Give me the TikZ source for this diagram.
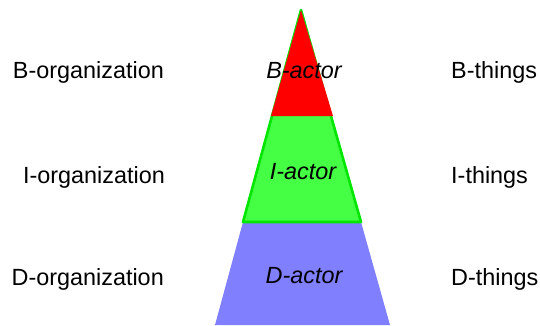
\documentclass[tikz,border=0pt]{standalone}
\usepackage{fontspec}
\setmainfont{Liberation Sans}
\usepackage{tikz,xcolor}
\usetikzlibrary{positioning}
\definecolor{bred}{HTML}{FF0000}
\definecolor{igreen}{HTML}{44FF44}
\definecolor{iedge}{HTML}{00E600}
\definecolor{dblue}{HTML}{8080FF}
\tikzset{
    level/.style={font=\fontsize{23.4}{28}\selectfont, inner sep=0pt}, % 左右两侧文字
    actor/.style={level, font=\fontsize{23.4}{28}\selectfont\itshape, anchor=base}, % 中间斜体文字
    org/.style={level, anchor=base east},
    thing/.style={level, anchor=base west}
}

\begin{document}
\begin{tikzpicture}[x=1pt, y=1pt]
    \useasboundingbox (0, 0) rectangle (540, 325);

    % 三角形的三层
    \fill[dblue] (215, 0) -- (390, 0) -- (361, 103) -- (243, 103) -- cycle;
    \filldraw[fill=igreen, draw=iedge, line width=2.6pt, line join=round] (301, 315) -- (361, 103) -- (243, 103) -- cycle;
    \fill[bred] (301, 315) -- (333, 209) -- (271, 209) -- cycle;

    \node (borg) [org] at (164, 247) {B-organization};
    \node (iorg) [org] at (165, 142) {I-organization};
    \node (dorg) [org] at (164, 40) {D-organization};

    \node (bact) [actor] at (304, 247) {B-actor};
    \node (iact) [actor] at (303, 146) {I-actor};
    \node (dact) [actor] at (304, 42) {D-actor};

    \node (bthing) [thing] at (451, 247) {B-things};
    \node (ithing) [thing] at (451, 142) {I-things};
    \node (dthing) [thing] at (451, 40) {D-things};
\end{tikzpicture}
\end{document}
